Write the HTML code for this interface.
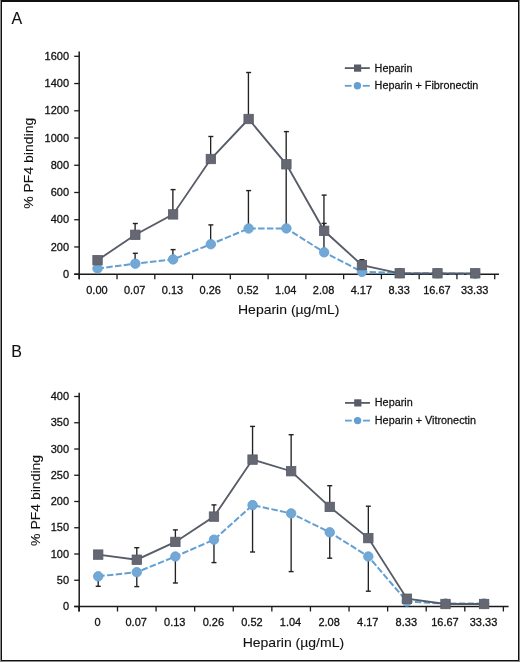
<!DOCTYPE html>
<html><head><meta charset="utf-8"><title>PF4 binding</title>
<style>
html,body{margin:0;padding:0;background:#fff;}
body{width:520px;height:662px;overflow:hidden;position:relative;}
svg{position:absolute;left:0;top:0;display:block;will-change:transform;}
text{font-family:"Liberation Sans", sans-serif;fill:#111;stroke:#111;stroke-width:0.3px;}
.t{font-size:11.7px;stroke-width:0.3px;}
.lg{font-size:11px;stroke-width:0.25px;}
.ti{font-size:14px;stroke-width:0.1px;}
.pl{font-size:16px;stroke-width:0.1px;}
</style></head><body>
<svg width="520" height="662" viewBox="0 0 520 662">
<rect x="0" y="0" width="520" height="662" fill="#fff"/>
<rect x="0" y="0" width="1" height="662" fill="#8a8a8a"/>
<rect x="519" y="0" width="1" height="662" fill="#8a8a8a"/>
<rect x="0" y="661" width="520" height="1" fill="#8a8a8a"/>
<rect x="1" y="0" width="518" height="2" fill="#111"/>
<rect x="1" y="0" width="1" height="661" fill="#111"/>
<rect x="518" y="0" width="1" height="661" fill="#111"/>
<rect x="1" y="660" width="518" height="1" fill="#111"/>
<line x1="79.2" y1="51.5" x2="79.2" y2="279.2" stroke="#1a1a1a" stroke-width="1.5"/>
<line x1="74.2" y1="274.2" x2="499" y2="274.2" stroke="#1a1a1a" stroke-width="1.5"/>
<line x1="74.2" y1="274.20" x2="79.2" y2="274.20" stroke="#1a1a1a" stroke-width="1.3"/>
<text transform="translate(69,277.80) scale(0.94,1)" text-anchor="end" class="t">0</text>
<line x1="74.2" y1="246.96" x2="79.2" y2="246.96" stroke="#1a1a1a" stroke-width="1.3"/>
<text transform="translate(69,250.56) scale(0.94,1)" text-anchor="end" class="t">200</text>
<line x1="74.2" y1="219.72" x2="79.2" y2="219.72" stroke="#1a1a1a" stroke-width="1.3"/>
<text transform="translate(69,223.32) scale(0.94,1)" text-anchor="end" class="t">400</text>
<line x1="74.2" y1="192.49" x2="79.2" y2="192.49" stroke="#1a1a1a" stroke-width="1.3"/>
<text transform="translate(69,196.09) scale(0.94,1)" text-anchor="end" class="t">600</text>
<line x1="74.2" y1="165.25" x2="79.2" y2="165.25" stroke="#1a1a1a" stroke-width="1.3"/>
<text transform="translate(69,168.85) scale(0.94,1)" text-anchor="end" class="t">800</text>
<line x1="74.2" y1="138.01" x2="79.2" y2="138.01" stroke="#1a1a1a" stroke-width="1.3"/>
<text transform="translate(69,141.61) scale(0.94,1)" text-anchor="end" class="t">1000</text>
<line x1="74.2" y1="110.78" x2="79.2" y2="110.78" stroke="#1a1a1a" stroke-width="1.3"/>
<text transform="translate(69,114.38) scale(0.94,1)" text-anchor="end" class="t">1200</text>
<line x1="74.2" y1="83.54" x2="79.2" y2="83.54" stroke="#1a1a1a" stroke-width="1.3"/>
<text transform="translate(69,87.14) scale(0.94,1)" text-anchor="end" class="t">1400</text>
<line x1="74.2" y1="56.30" x2="79.2" y2="56.30" stroke="#1a1a1a" stroke-width="1.3"/>
<text transform="translate(69,59.90) scale(0.94,1)" text-anchor="end" class="t">1600</text>
<line x1="79.25" y1="274.2" x2="79.25" y2="279.2" stroke="#1a1a1a" stroke-width="1.3"/>
<line x1="117.02" y1="274.2" x2="117.02" y2="279.2" stroke="#1a1a1a" stroke-width="1.3"/>
<line x1="154.79" y1="274.2" x2="154.79" y2="279.2" stroke="#1a1a1a" stroke-width="1.3"/>
<line x1="192.56" y1="274.2" x2="192.56" y2="279.2" stroke="#1a1a1a" stroke-width="1.3"/>
<line x1="230.33" y1="274.2" x2="230.33" y2="279.2" stroke="#1a1a1a" stroke-width="1.3"/>
<line x1="268.10" y1="274.2" x2="268.10" y2="279.2" stroke="#1a1a1a" stroke-width="1.3"/>
<line x1="305.87" y1="274.2" x2="305.87" y2="279.2" stroke="#1a1a1a" stroke-width="1.3"/>
<line x1="343.64" y1="274.2" x2="343.64" y2="279.2" stroke="#1a1a1a" stroke-width="1.3"/>
<line x1="381.41" y1="274.2" x2="381.41" y2="279.2" stroke="#1a1a1a" stroke-width="1.3"/>
<line x1="419.18" y1="274.2" x2="419.18" y2="279.2" stroke="#1a1a1a" stroke-width="1.3"/>
<line x1="456.95" y1="274.2" x2="456.95" y2="279.2" stroke="#1a1a1a" stroke-width="1.3"/>
<line x1="494.72" y1="274.2" x2="494.72" y2="279.2" stroke="#1a1a1a" stroke-width="1.3"/>
<text transform="translate(96.94,293.80) scale(0.94,1)" text-anchor="middle" class="t">0.00</text>
<text transform="translate(134.71,293.80) scale(0.94,1)" text-anchor="middle" class="t">0.07</text>
<text transform="translate(172.48,293.80) scale(0.94,1)" text-anchor="middle" class="t">0.13</text>
<text transform="translate(210.25,293.80) scale(0.94,1)" text-anchor="middle" class="t">0.26</text>
<text transform="translate(248.02,293.80) scale(0.94,1)" text-anchor="middle" class="t">0.52</text>
<text transform="translate(285.79,293.80) scale(0.94,1)" text-anchor="middle" class="t">1.04</text>
<text transform="translate(323.56,293.80) scale(0.94,1)" text-anchor="middle" class="t">2.08</text>
<text transform="translate(361.33,293.80) scale(0.94,1)" text-anchor="middle" class="t">4.17</text>
<text transform="translate(399.10,293.80) scale(0.94,1)" text-anchor="middle" class="t">8.33</text>
<text transform="translate(436.87,293.80) scale(0.94,1)" text-anchor="middle" class="t">16.67</text>
<text transform="translate(474.64,293.80) scale(0.94,1)" text-anchor="middle" class="t">33.33</text>
<text transform="translate(288.7,314.10) scale(1,0.96)" text-anchor="middle" class="ti">Heparin (µg/mL)</text>
<text transform="translate(33.2,163.3) rotate(-90) scale(1,0.96)" x="0" y="0" text-anchor="middle" class="ti">% PF4 binding</text>
<text x="11.5" y="23.6" class="pl">A</text>
<polyline points="97.54,268.50 135.31,263.70 173.08,259.40 210.85,244.20 248.62,228.50 286.38,228.40 324.15,252.30 361.93,271.80 399.69,273.10 437.47,273.40 475.24,273.80" fill="none" stroke="#649fd2" stroke-width="2" stroke-dasharray="6.5 2.3"/>
<line x1="135.11" y1="263.70" x2="135.11" y2="253.30" stroke="#222" stroke-width="1.35"/>
<line x1="132.81" y1="253.30" x2="137.81" y2="253.30" stroke="#222" stroke-width="1.4"/>
<line x1="172.88" y1="259.40" x2="172.88" y2="249.60" stroke="#222" stroke-width="1.35"/>
<line x1="170.58" y1="249.60" x2="175.58" y2="249.60" stroke="#222" stroke-width="1.4"/>
<line x1="210.65" y1="244.20" x2="210.65" y2="224.90" stroke="#222" stroke-width="1.35"/>
<line x1="208.35" y1="224.90" x2="213.35" y2="224.90" stroke="#222" stroke-width="1.4"/>
<line x1="248.42" y1="228.50" x2="248.42" y2="190.60" stroke="#222" stroke-width="1.35"/>
<line x1="246.12" y1="190.60" x2="251.12" y2="190.60" stroke="#222" stroke-width="1.4"/>
<line x1="286.19" y1="228.40" x2="286.19" y2="164.30" stroke="#222" stroke-width="1.35"/>
<line x1="283.88" y1="164.30" x2="288.88" y2="164.30" stroke="#222" stroke-width="1.4"/>
<line x1="323.95" y1="252.30" x2="323.95" y2="223.40" stroke="#222" stroke-width="1.35"/>
<line x1="321.65" y1="223.40" x2="326.65" y2="223.40" stroke="#222" stroke-width="1.4"/>
<circle cx="97.54" cy="268.50" r="4.75" fill="#72a8d5" stroke="#649fd2" stroke-width="0.8"/>
<circle cx="135.31" cy="263.70" r="4.75" fill="#72a8d5" stroke="#649fd2" stroke-width="0.8"/>
<circle cx="173.08" cy="259.40" r="4.75" fill="#72a8d5" stroke="#649fd2" stroke-width="0.8"/>
<circle cx="210.85" cy="244.20" r="4.75" fill="#72a8d5" stroke="#649fd2" stroke-width="0.8"/>
<circle cx="248.62" cy="228.50" r="4.75" fill="#72a8d5" stroke="#649fd2" stroke-width="0.8"/>
<circle cx="286.38" cy="228.40" r="4.75" fill="#72a8d5" stroke="#649fd2" stroke-width="0.8"/>
<circle cx="324.15" cy="252.30" r="4.75" fill="#72a8d5" stroke="#649fd2" stroke-width="0.8"/>
<circle cx="361.93" cy="271.80" r="4.75" fill="#72a8d5" stroke="#649fd2" stroke-width="0.8"/>
<circle cx="399.69" cy="273.10" r="4.75" fill="#72a8d5" stroke="#649fd2" stroke-width="0.8"/>
<circle cx="437.47" cy="273.40" r="4.75" fill="#72a8d5" stroke="#649fd2" stroke-width="0.8"/>
<circle cx="475.24" cy="273.80" r="4.75" fill="#72a8d5" stroke="#649fd2" stroke-width="0.8"/>
<polyline points="97.54,260.20 135.31,234.80 173.08,214.40 210.85,159.00 248.62,119.00 286.38,164.30 324.15,230.80 361.93,265.10 399.69,273.30 437.47,273.30 475.24,273.30" fill="none" stroke="#585c68" stroke-width="1.85"/>
<line x1="135.11" y1="234.80" x2="135.11" y2="223.50" stroke="#222" stroke-width="1.35"/>
<line x1="132.81" y1="223.50" x2="137.81" y2="223.50" stroke="#222" stroke-width="1.4"/>
<line x1="172.88" y1="214.40" x2="172.88" y2="189.60" stroke="#222" stroke-width="1.35"/>
<line x1="170.58" y1="189.60" x2="175.58" y2="189.60" stroke="#222" stroke-width="1.4"/>
<line x1="210.65" y1="159.00" x2="210.65" y2="136.50" stroke="#222" stroke-width="1.35"/>
<line x1="208.35" y1="136.50" x2="213.35" y2="136.50" stroke="#222" stroke-width="1.4"/>
<line x1="248.42" y1="119.00" x2="248.42" y2="72.50" stroke="#222" stroke-width="1.35"/>
<line x1="246.12" y1="72.50" x2="251.12" y2="72.50" stroke="#222" stroke-width="1.4"/>
<line x1="286.19" y1="164.30" x2="286.19" y2="131.60" stroke="#222" stroke-width="1.35"/>
<line x1="283.88" y1="131.60" x2="288.88" y2="131.60" stroke="#222" stroke-width="1.4"/>
<line x1="323.95" y1="230.80" x2="323.95" y2="195.10" stroke="#222" stroke-width="1.35"/>
<line x1="321.65" y1="195.10" x2="326.65" y2="195.10" stroke="#222" stroke-width="1.4"/>
<line x1="361.73" y1="265.10" x2="361.73" y2="259.70" stroke="#222" stroke-width="1.35"/>
<line x1="359.43" y1="259.70" x2="364.43" y2="259.70" stroke="#222" stroke-width="1.4"/>
<rect x="92.84" y="255.50" width="9.4" height="9.4" fill="#656873" stroke="#585c68" stroke-width="0.8"/>
<rect x="130.61" y="230.10" width="9.4" height="9.4" fill="#656873" stroke="#585c68" stroke-width="0.8"/>
<rect x="168.38" y="209.70" width="9.4" height="9.4" fill="#656873" stroke="#585c68" stroke-width="0.8"/>
<rect x="206.15" y="154.30" width="9.4" height="9.4" fill="#656873" stroke="#585c68" stroke-width="0.8"/>
<rect x="243.92" y="114.30" width="9.4" height="9.4" fill="#656873" stroke="#585c68" stroke-width="0.8"/>
<rect x="281.69" y="159.60" width="9.4" height="9.4" fill="#656873" stroke="#585c68" stroke-width="0.8"/>
<rect x="319.45" y="226.10" width="9.4" height="9.4" fill="#656873" stroke="#585c68" stroke-width="0.8"/>
<rect x="357.23" y="260.40" width="9.4" height="9.4" fill="#656873" stroke="#585c68" stroke-width="0.8"/>
<rect x="395.00" y="268.60" width="9.4" height="9.4" fill="#656873" stroke="#585c68" stroke-width="0.8"/>
<rect x="432.77" y="268.60" width="9.4" height="9.4" fill="#656873" stroke="#585c68" stroke-width="0.8"/>
<rect x="470.54" y="268.60" width="9.4" height="9.4" fill="#656873" stroke="#585c68" stroke-width="0.8"/>
<line x1="344.8" y1="68.1" x2="369.8" y2="68.1" stroke="#585c68" stroke-width="1.8"/>
<rect x="354.0" y="64.5" width="7.2" height="7.2" fill="#585c68"/>
<line x1="344.8" y1="85.8" x2="351.6" y2="85.8" stroke="#649fd2" stroke-width="1.8"/>
<line x1="362.8" y1="85.8" x2="369.8" y2="85.8" stroke="#649fd2" stroke-width="1.8"/>
<circle cx="357.40000000000003" cy="85.8" r="3.7" fill="#649fd2"/>
<text transform="translate(374.6,71.8) scale(0.985,1)" class="lg">Heparin</text>
<text transform="translate(374.6,89.4) scale(0.985,1)" class="lg">Heparin + Fibronectin</text>
<line x1="79.2" y1="392.7" x2="79.2" y2="611.5" stroke="#1a1a1a" stroke-width="1.5"/>
<line x1="74.2" y1="606.5" x2="508.6" y2="606.5" stroke="#1a1a1a" stroke-width="1.5"/>
<line x1="74.2" y1="606.50" x2="79.2" y2="606.50" stroke="#1a1a1a" stroke-width="1.3"/>
<text transform="translate(69,610.10) scale(0.94,1)" text-anchor="end" class="t">0</text>
<line x1="74.2" y1="580.25" x2="79.2" y2="580.25" stroke="#1a1a1a" stroke-width="1.3"/>
<text transform="translate(69,583.85) scale(0.94,1)" text-anchor="end" class="t">50</text>
<line x1="74.2" y1="554.00" x2="79.2" y2="554.00" stroke="#1a1a1a" stroke-width="1.3"/>
<text transform="translate(69,557.60) scale(0.94,1)" text-anchor="end" class="t">100</text>
<line x1="74.2" y1="527.75" x2="79.2" y2="527.75" stroke="#1a1a1a" stroke-width="1.3"/>
<text transform="translate(69,531.35) scale(0.94,1)" text-anchor="end" class="t">150</text>
<line x1="74.2" y1="501.50" x2="79.2" y2="501.50" stroke="#1a1a1a" stroke-width="1.3"/>
<text transform="translate(69,505.10) scale(0.94,1)" text-anchor="end" class="t">200</text>
<line x1="74.2" y1="475.25" x2="79.2" y2="475.25" stroke="#1a1a1a" stroke-width="1.3"/>
<text transform="translate(69,478.85) scale(0.94,1)" text-anchor="end" class="t">250</text>
<line x1="74.2" y1="449.00" x2="79.2" y2="449.00" stroke="#1a1a1a" stroke-width="1.3"/>
<text transform="translate(69,452.60) scale(0.94,1)" text-anchor="end" class="t">300</text>
<line x1="74.2" y1="422.75" x2="79.2" y2="422.75" stroke="#1a1a1a" stroke-width="1.3"/>
<text transform="translate(69,426.35) scale(0.94,1)" text-anchor="end" class="t">350</text>
<line x1="74.2" y1="396.50" x2="79.2" y2="396.50" stroke="#1a1a1a" stroke-width="1.3"/>
<text transform="translate(69,400.10) scale(0.94,1)" text-anchor="end" class="t">400</text>
<line x1="78.90" y1="606.5" x2="78.90" y2="611.5" stroke="#1a1a1a" stroke-width="1.3"/>
<line x1="117.49" y1="606.5" x2="117.49" y2="611.5" stroke="#1a1a1a" stroke-width="1.3"/>
<line x1="156.08" y1="606.5" x2="156.08" y2="611.5" stroke="#1a1a1a" stroke-width="1.3"/>
<line x1="194.67" y1="606.5" x2="194.67" y2="611.5" stroke="#1a1a1a" stroke-width="1.3"/>
<line x1="233.26" y1="606.5" x2="233.26" y2="611.5" stroke="#1a1a1a" stroke-width="1.3"/>
<line x1="271.85" y1="606.5" x2="271.85" y2="611.5" stroke="#1a1a1a" stroke-width="1.3"/>
<line x1="310.44" y1="606.5" x2="310.44" y2="611.5" stroke="#1a1a1a" stroke-width="1.3"/>
<line x1="349.03" y1="606.5" x2="349.03" y2="611.5" stroke="#1a1a1a" stroke-width="1.3"/>
<line x1="387.62" y1="606.5" x2="387.62" y2="611.5" stroke="#1a1a1a" stroke-width="1.3"/>
<line x1="426.21" y1="606.5" x2="426.21" y2="611.5" stroke="#1a1a1a" stroke-width="1.3"/>
<line x1="464.80" y1="606.5" x2="464.80" y2="611.5" stroke="#1a1a1a" stroke-width="1.3"/>
<line x1="503.39" y1="606.5" x2="503.39" y2="611.5" stroke="#1a1a1a" stroke-width="1.3"/>
<text transform="translate(97.60,626.40) scale(0.94,1)" text-anchor="middle" class="t">0</text>
<text transform="translate(136.19,626.40) scale(0.94,1)" text-anchor="middle" class="t">0.07</text>
<text transform="translate(174.78,626.40) scale(0.94,1)" text-anchor="middle" class="t">0.13</text>
<text transform="translate(213.37,626.40) scale(0.94,1)" text-anchor="middle" class="t">0.26</text>
<text transform="translate(251.96,626.40) scale(0.94,1)" text-anchor="middle" class="t">0.52</text>
<text transform="translate(290.54,626.40) scale(0.94,1)" text-anchor="middle" class="t">1.04</text>
<text transform="translate(329.13,626.40) scale(0.94,1)" text-anchor="middle" class="t">2.08</text>
<text transform="translate(367.73,626.40) scale(0.94,1)" text-anchor="middle" class="t">4.17</text>
<text transform="translate(406.32,626.40) scale(0.94,1)" text-anchor="middle" class="t">8.33</text>
<text transform="translate(444.90,626.40) scale(0.94,1)" text-anchor="middle" class="t">16.67</text>
<text transform="translate(483.50,626.40) scale(0.94,1)" text-anchor="middle" class="t">33.33</text>
<text transform="translate(293.4,646.70) scale(1,0.96)" text-anchor="middle" class="ti">Heparin (µg/mL)</text>
<text transform="translate(40.4,500.4) rotate(-90) scale(1,0.96)" x="0" y="0" text-anchor="middle" class="ti">% PF4 binding</text>
<text x="11.3" y="356.8" class="pl">B</text>
<polyline points="98.20,576.30 136.79,572.20 175.38,556.50 213.97,539.70 252.56,505.10 291.14,513.40 329.74,532.30 368.33,556.50 406.92,601.50 445.50,603.60 484.10,603.60" fill="none" stroke="#649fd2" stroke-width="2" stroke-dasharray="6.5 2.3"/>
<line x1="98.20" y1="576.30" x2="98.20" y2="586.30" stroke="#222" stroke-width="1.35"/>
<line x1="95.70" y1="586.30" x2="100.70" y2="586.30" stroke="#222" stroke-width="1.4"/>
<line x1="136.79" y1="572.20" x2="136.79" y2="586.60" stroke="#222" stroke-width="1.35"/>
<line x1="134.29" y1="586.60" x2="139.29" y2="586.60" stroke="#222" stroke-width="1.4"/>
<line x1="175.38" y1="556.50" x2="175.38" y2="583.00" stroke="#222" stroke-width="1.35"/>
<line x1="172.88" y1="583.00" x2="177.88" y2="583.00" stroke="#222" stroke-width="1.4"/>
<line x1="213.97" y1="539.70" x2="213.97" y2="562.60" stroke="#222" stroke-width="1.35"/>
<line x1="211.47" y1="562.60" x2="216.47" y2="562.60" stroke="#222" stroke-width="1.4"/>
<line x1="252.56" y1="505.10" x2="252.56" y2="552.00" stroke="#222" stroke-width="1.35"/>
<line x1="250.06" y1="552.00" x2="255.06" y2="552.00" stroke="#222" stroke-width="1.4"/>
<line x1="291.14" y1="513.40" x2="291.14" y2="571.60" stroke="#222" stroke-width="1.35"/>
<line x1="288.64" y1="571.60" x2="293.64" y2="571.60" stroke="#222" stroke-width="1.4"/>
<line x1="329.74" y1="532.30" x2="329.74" y2="558.20" stroke="#222" stroke-width="1.35"/>
<line x1="327.24" y1="558.20" x2="332.24" y2="558.20" stroke="#222" stroke-width="1.4"/>
<line x1="368.33" y1="556.50" x2="368.33" y2="591.20" stroke="#222" stroke-width="1.35"/>
<line x1="365.83" y1="591.20" x2="370.83" y2="591.20" stroke="#222" stroke-width="1.4"/>
<circle cx="98.20" cy="576.30" r="4.75" fill="#72a8d5" stroke="#649fd2" stroke-width="0.8"/>
<circle cx="136.79" cy="572.20" r="4.75" fill="#72a8d5" stroke="#649fd2" stroke-width="0.8"/>
<circle cx="175.38" cy="556.50" r="4.75" fill="#72a8d5" stroke="#649fd2" stroke-width="0.8"/>
<circle cx="213.97" cy="539.70" r="4.75" fill="#72a8d5" stroke="#649fd2" stroke-width="0.8"/>
<circle cx="252.56" cy="505.10" r="4.75" fill="#72a8d5" stroke="#649fd2" stroke-width="0.8"/>
<circle cx="291.14" cy="513.40" r="4.75" fill="#72a8d5" stroke="#649fd2" stroke-width="0.8"/>
<circle cx="329.74" cy="532.30" r="4.75" fill="#72a8d5" stroke="#649fd2" stroke-width="0.8"/>
<circle cx="368.33" cy="556.50" r="4.75" fill="#72a8d5" stroke="#649fd2" stroke-width="0.8"/>
<circle cx="406.92" cy="601.50" r="4.75" fill="#72a8d5" stroke="#649fd2" stroke-width="0.8"/>
<circle cx="445.50" cy="603.60" r="4.75" fill="#72a8d5" stroke="#649fd2" stroke-width="0.8"/>
<circle cx="484.10" cy="603.60" r="4.75" fill="#72a8d5" stroke="#649fd2" stroke-width="0.8"/>
<polyline points="98.20,554.60 136.79,559.70 175.38,541.90 213.97,516.60 252.56,459.60 291.14,471.20 329.74,506.90 368.33,538.10 406.92,598.70 445.50,604.00 484.10,604.00" fill="none" stroke="#585c68" stroke-width="1.85"/>
<line x1="136.79" y1="559.70" x2="136.79" y2="547.70" stroke="#222" stroke-width="1.35"/>
<line x1="134.29" y1="547.70" x2="139.29" y2="547.70" stroke="#222" stroke-width="1.4"/>
<line x1="175.38" y1="541.90" x2="175.38" y2="529.90" stroke="#222" stroke-width="1.35"/>
<line x1="172.88" y1="529.90" x2="177.88" y2="529.90" stroke="#222" stroke-width="1.4"/>
<line x1="213.97" y1="516.60" x2="213.97" y2="504.90" stroke="#222" stroke-width="1.35"/>
<line x1="211.47" y1="504.90" x2="216.47" y2="504.90" stroke="#222" stroke-width="1.4"/>
<line x1="252.56" y1="459.60" x2="252.56" y2="426.40" stroke="#222" stroke-width="1.35"/>
<line x1="250.06" y1="426.40" x2="255.06" y2="426.40" stroke="#222" stroke-width="1.4"/>
<line x1="291.14" y1="471.20" x2="291.14" y2="434.70" stroke="#222" stroke-width="1.35"/>
<line x1="288.64" y1="434.70" x2="293.64" y2="434.70" stroke="#222" stroke-width="1.4"/>
<line x1="329.74" y1="506.90" x2="329.74" y2="485.70" stroke="#222" stroke-width="1.35"/>
<line x1="327.24" y1="485.70" x2="332.24" y2="485.70" stroke="#222" stroke-width="1.4"/>
<line x1="368.33" y1="538.10" x2="368.33" y2="506.20" stroke="#222" stroke-width="1.35"/>
<line x1="365.83" y1="506.20" x2="370.83" y2="506.20" stroke="#222" stroke-width="1.4"/>
<rect x="93.50" y="549.90" width="9.4" height="9.4" fill="#656873" stroke="#585c68" stroke-width="0.8"/>
<rect x="132.09" y="555.00" width="9.4" height="9.4" fill="#656873" stroke="#585c68" stroke-width="0.8"/>
<rect x="170.68" y="537.20" width="9.4" height="9.4" fill="#656873" stroke="#585c68" stroke-width="0.8"/>
<rect x="209.27" y="511.90" width="9.4" height="9.4" fill="#656873" stroke="#585c68" stroke-width="0.8"/>
<rect x="247.86" y="454.90" width="9.4" height="9.4" fill="#656873" stroke="#585c68" stroke-width="0.8"/>
<rect x="286.44" y="466.50" width="9.4" height="9.4" fill="#656873" stroke="#585c68" stroke-width="0.8"/>
<rect x="325.04" y="502.20" width="9.4" height="9.4" fill="#656873" stroke="#585c68" stroke-width="0.8"/>
<rect x="363.63" y="533.40" width="9.4" height="9.4" fill="#656873" stroke="#585c68" stroke-width="0.8"/>
<rect x="402.22" y="594.00" width="9.4" height="9.4" fill="#656873" stroke="#585c68" stroke-width="0.8"/>
<rect x="440.81" y="599.30" width="9.4" height="9.4" fill="#656873" stroke="#585c68" stroke-width="0.8"/>
<rect x="479.40" y="599.30" width="9.4" height="9.4" fill="#656873" stroke="#585c68" stroke-width="0.8"/>
<line x1="345" y1="402.9" x2="370" y2="402.9" stroke="#585c68" stroke-width="1.8"/>
<rect x="354.2" y="399.29999999999995" width="7.2" height="7.2" fill="#585c68"/>
<line x1="345" y1="420.6" x2="351.8" y2="420.6" stroke="#649fd2" stroke-width="1.8"/>
<line x1="363" y1="420.6" x2="370" y2="420.6" stroke="#649fd2" stroke-width="1.8"/>
<circle cx="357.6" cy="420.6" r="3.7" fill="#649fd2"/>
<text transform="translate(374.8,406.3) scale(0.985,1)" class="lg">Heparin</text>
<text transform="translate(374.8,424.2) scale(0.985,1)" class="lg">Heparin + Vitronectin</text>
</svg>
</body></html>
